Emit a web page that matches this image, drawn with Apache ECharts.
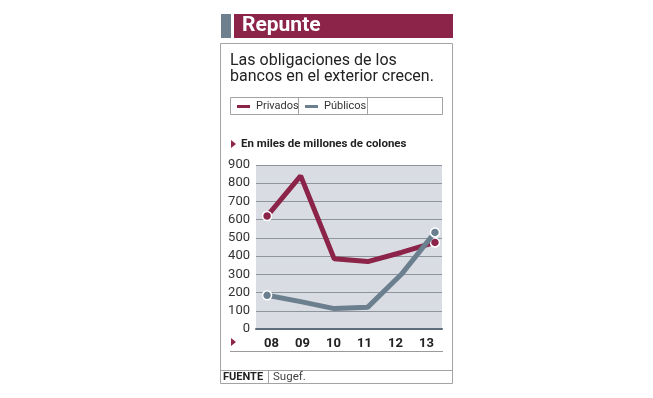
<!DOCTYPE html>
<html>
<head>
<meta charset="utf-8">
<script src="https://cdn.jsdelivr.net/npm/echarts@6/dist/echarts.min.js"></script>
<style>
  html, body { margin: 0; padding: 0; background: #fff; }
  #main { width: 653px; height: 398px; }
</style>
</head>
<body>
<div id="main"></div>
<script>
// datos
var years = ['08', '09', '10', '11', '12', '13'];
var privados = [620, 840, 385, 370, 420, 475];
var publicos = [185, 150, 112, 120, 300, 530];

var RED = '#8c2449';
var BLUE = '#6b7f8f';
var FONT = 'Roboto, "Liberation Sans", sans-serif';

// solo puntos en los extremos
function buildData(arr) {
    return arr.map(function (v, i) {
        var item = { value: [i, v] };
        if (i === 0 || i === arr.length - 1) {
            item.symbol = 'circle';
            item.symbolSize = 9;
        } else {
            item.symbol = 'none';
        }
        return item;
    });
}

// una leyenda por celda
function legendCell(name, left) {
    return {
        left: left,
        top: 101,
        padding: 0,
        itemWidth: 15,
        itemHeight: 5,
        icon: 'rect',
        selectedMode: false,
        textStyle: { fontSize: 11, color: '#333', fontFamily: FONT },
        data: [name]
    };
}

var myChart = echarts.init(document.getElementById('main'));
myChart.setOption({
    animation: false,
    textStyle: { fontFamily: FONT },
    color: [RED, BLUE],
    legend: [legendCell('Privados', 235), legendCell('Públicos', 303)],
    grid: {
        left: 256,
        right: 211,
        top: 165,
        bottom: 69,
        show: true,
        backgroundColor: '#d9dde3',
        borderWidth: 0
    },
    xAxis: [{
        type: 'category',
        data: years,
        boundaryGap: true,
        axisLine: { lineStyle: { color: '#5e6e7c', width: 2 } },
        axisTick: { inside: true, length: 4, lineStyle: { color: '#5e6e7c' } },
        axisLabel: { margin: 8, fontSize: 13, fontWeight: 'bold', color: '#222', fontFamily: FONT }
    }, {
        type: 'value',
        min: -0.33,
        max: 5.21,
        show: false
    }],
    yAxis: {
        type: 'value',
        min: 0,
        max: 900,
        interval: 100,
        axisLine: { show: false },
        axisTick: { show: false },
        axisLabel: { margin: 6, fontSize: 13, color: '#333', fontFamily: FONT },
        splitLine: { lineStyle: { color: '#8e949b', width: 1 } }
    },
    series: [{
        name: 'Privados',
        type: 'line',
        xAxisIndex: 1,
        data: buildData(privados),
        lineStyle: { width: 5, color: RED },
        itemStyle: { color: RED, borderColor: '#fff', borderWidth: 1.5 },
        z: 3
    }, {
        name: 'Públicos',
        type: 'line',
        xAxisIndex: 1,
        data: buildData(publicos),
        lineStyle: { width: 5, color: BLUE },
        itemStyle: { color: BLUE, borderColor: '#fff', borderWidth: 1.5 },
        z: 4
    }],
    graphic: [
        // cabecera
        { type: 'rect', shape: { x: 221, y: 14, width: 10, height: 24 }, style: { fill: '#6e7f8d' } },
        { type: 'rect', shape: { x: 234, y: 14, width: 219, height: 24 }, style: { fill: RED } },
        { type: 'text', x: 242, y: 26, style: { text: 'Repunte', fill: '#fff', font: 'bold 21px ' + FONT, textVerticalAlign: 'middle' } },
        // marco
        { type: 'rect', shape: { x: 220.5, y: 43.5, width: 232, height: 340 }, style: { fill: 'none', stroke: '#a3a3a3', lineWidth: 1 } },
        { type: 'text', x: 230, y: 53, style: { text: 'Las obligaciones de los\nbancos en el exterior crecen.', fill: '#222', font: '16px ' + FONT, lineHeight: 16 } },
        // caja de leyenda
        { type: 'rect', shape: { x: 230.5, y: 97.5, width: 212, height: 17 }, style: { fill: 'none', stroke: '#a3a3a3', lineWidth: 1 } },
        { type: 'line', shape: { x1: 298.5, y1: 97.5, x2: 298.5, y2: 114.5 }, style: { stroke: '#a3a3a3', lineWidth: 1 } },
        { type: 'line', shape: { x1: 367.5, y1: 97.5, x2: 367.5, y2: 114.5 }, style: { stroke: '#a3a3a3', lineWidth: 1 } },
        // unidad
        { type: 'polygon', shape: { points: [[231, 140], [236, 144], [231, 148]] }, style: { fill: RED } },
        { type: 'text', x: 241, y: 144, style: { text: 'En miles de millones de colones', fill: '#222', font: 'bold 11.5px ' + FONT, textVerticalAlign: 'middle' } },
        // pie del eje
        { type: 'polygon', shape: { points: [[231, 338], [236, 342], [231, 346]] }, style: { fill: RED } },
        { type: 'line', shape: { x1: 230, y1: 351.5, x2: 443, y2: 351.5 }, style: { stroke: '#9a9a9a', lineWidth: 1 } },
        // fuente
        { type: 'line', shape: { x1: 220, y1: 370.5, x2: 453, y2: 370.5 }, style: { stroke: '#a3a3a3', lineWidth: 1 } },
        { type: 'line', shape: { x1: 268.5, y1: 370.5, x2: 268.5, y2: 383.5 }, style: { stroke: '#a3a3a3', lineWidth: 1 } },
        { type: 'text', x: 223, y: 377, style: { text: 'FUENTE', fill: '#222', font: 'bold 11px ' + FONT, textVerticalAlign: 'middle' } },
        { type: 'text', x: 273, y: 377, style: { text: 'Sugef.', fill: '#444', font: '11.5px ' + FONT, textVerticalAlign: 'middle' } }
    ]
});
</script>
</body>
</html>
